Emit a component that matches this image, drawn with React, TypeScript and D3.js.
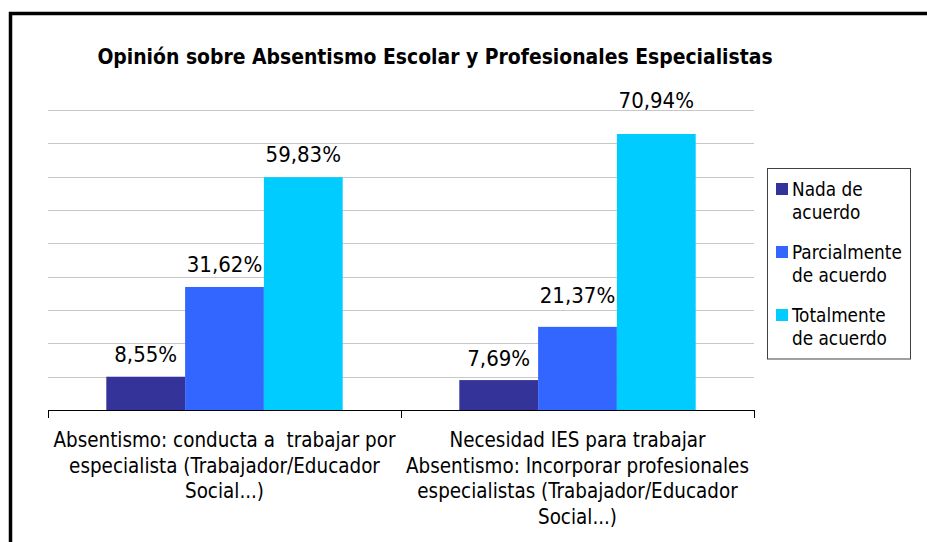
import React from "react";
import * as d3 from "d3";

const title = "Opinión sobre Absentismo Escolar y Profesionales Especialistas";
const categories = ["cat1", "cat2"];
const categoryLabels = [
  ["Absentismo: conducta a  trabajar por", "especialista (Trabajador/Educador", "Social...)"],
  ["Necesidad IES para trabajar", "Absentismo: Incorporar profesionales", "especialistas (Trabajador/Educador", "Social...)"],
];
const seriesNames = ["Nada de acuerdo", "Parcialmente de acuerdo", "Totalmente de acuerdo"];
const seriesLegendLines = [["Nada de", "acuerdo"], ["Parcialmente", "de acuerdo"], ["Totalmente", "de acuerdo"]];
const seriesColors = ["#333399", "#3366FF", "#00CCFF"];
const nadaValues = [8.55, 7.69];
const parcialValues = [31.62, 21.37];
const totalValues = [59.83, 70.94];
const valueLabels = [["8,55%", "7,69%"], ["31,62%", "21,37%"], ["59,83%", "70,94%"]];
const yMax = 77.1;
const gridCount = 9;

// label placement tweaks (layout only)
const labelGap = 14.5;
const labelExtraRaise = [[0, 0], [0, 9.5], [1, 11.5]];

const FONT = "'DejaVu Sans Condensed', 'DejaVu Sans', sans-serif";

export default function App() {
  const W = 927, H = 542;
  const left = 48, right = 754, top = 110, bottom = 410;
  const series = [nadaValues, parcialValues, totalValues];

  const x0 = d3.scaleBand<string>().domain(categories).range([left, right]).paddingInner(0).paddingOuter(0);
  const x1 = d3.scaleBand<number>().domain([0, 1, 2]).range([0, x0.bandwidth()]).paddingInner(0).paddingOuter(0.74);
  const y = d3.scaleLinear().domain([0, yMax]).range([bottom, top]);
  const grid = d3.range(1, gridCount + 1).map((i) => (i * yMax) / gridCount);

  return (
    <svg width={W} height={H} style={{ position: "absolute", left: 0, top: 0, background: "#fff" }}
      fontFamily={FONT} fontStretch="condensed">
      <rect x={0} y={0} width={W} height={H} fill="#fff" />
      <path d={`M10.5,${H} L10.5,13.5 L${W},13.5`} fill="none" stroke="#000" strokeWidth={3.5} />
      <text x={435} y={63.5} textAnchor="middle" fontSize={20.9} fontWeight="bold" fill="#000">{title}</text>

      {grid.map((g, i) => (
        <line key={i} x1={left} x2={right} y1={Math.round(y(g)) + 0.5} y2={Math.round(y(g)) + 0.5} stroke="#c8c8c8" strokeWidth={1} />
      ))}

      {categories.map((c, ci) => (
        <g key={c}>
          {series.map((s, si) => {
            const bx = (x0(c) as number) + (x1(si) as number);
            const bw = x1.bandwidth();
            return (
              <g key={si}>
                <rect x={bx} y={y(s[ci])} width={bw} height={bottom - y(s[ci])} fill={seriesColors[si]} />
                <text x={bx + bw / 2} y={y(s[ci]) - labelGap - labelExtraRaise[si][ci]} textAnchor="middle" fontSize={22} fill="#000">
                  {valueLabels[si][ci]}
                </text>
              </g>
            );
          })}
        </g>
      ))}

      <line x1={left} x2={right} y1={bottom + 0.5} y2={bottom + 0.5} stroke="#000" strokeWidth={1} />
      {[...categories.map((c) => x0(c) as number), right].map((tx, i) => (
        <line key={i} x1={Math.round(tx) + 0.5} x2={Math.round(tx) + 0.5} y1={bottom} y2={bottom + 8} stroke="#000" strokeWidth={1} />
      ))}

      {categories.map((c, ci) => (
        <text key={c} textAnchor="middle" fontSize={20.4} fill="#000" style={{ whiteSpace: "pre" }}>
          {categoryLabels[ci].map((ln, li) => (
            <tspan key={li} x={(x0(c) as number) + x0.bandwidth() / 2} y={447 + li * 25.5}>{ln}</tspan>
          ))}
        </text>
      ))}

      <rect x={767.5} y={168.5} width={143} height={190.5} fill="#fff" stroke="#404040" strokeWidth={1} />
      {seriesNames.map((n, i) => (
        <g key={n}>
          <rect x={776} y={183 + i * 63} width={12} height={12} fill={seriesColors[i]} />
          <text fontSize={18.8} fill="#000">
            {seriesLegendLines[i].map((ln, li) => (
              <tspan key={li} x={792} y={195.5 + i * 63 + li * 23}>{ln}</tspan>
            ))}
          </text>
        </g>
      ))}
    </svg>
  );
}
